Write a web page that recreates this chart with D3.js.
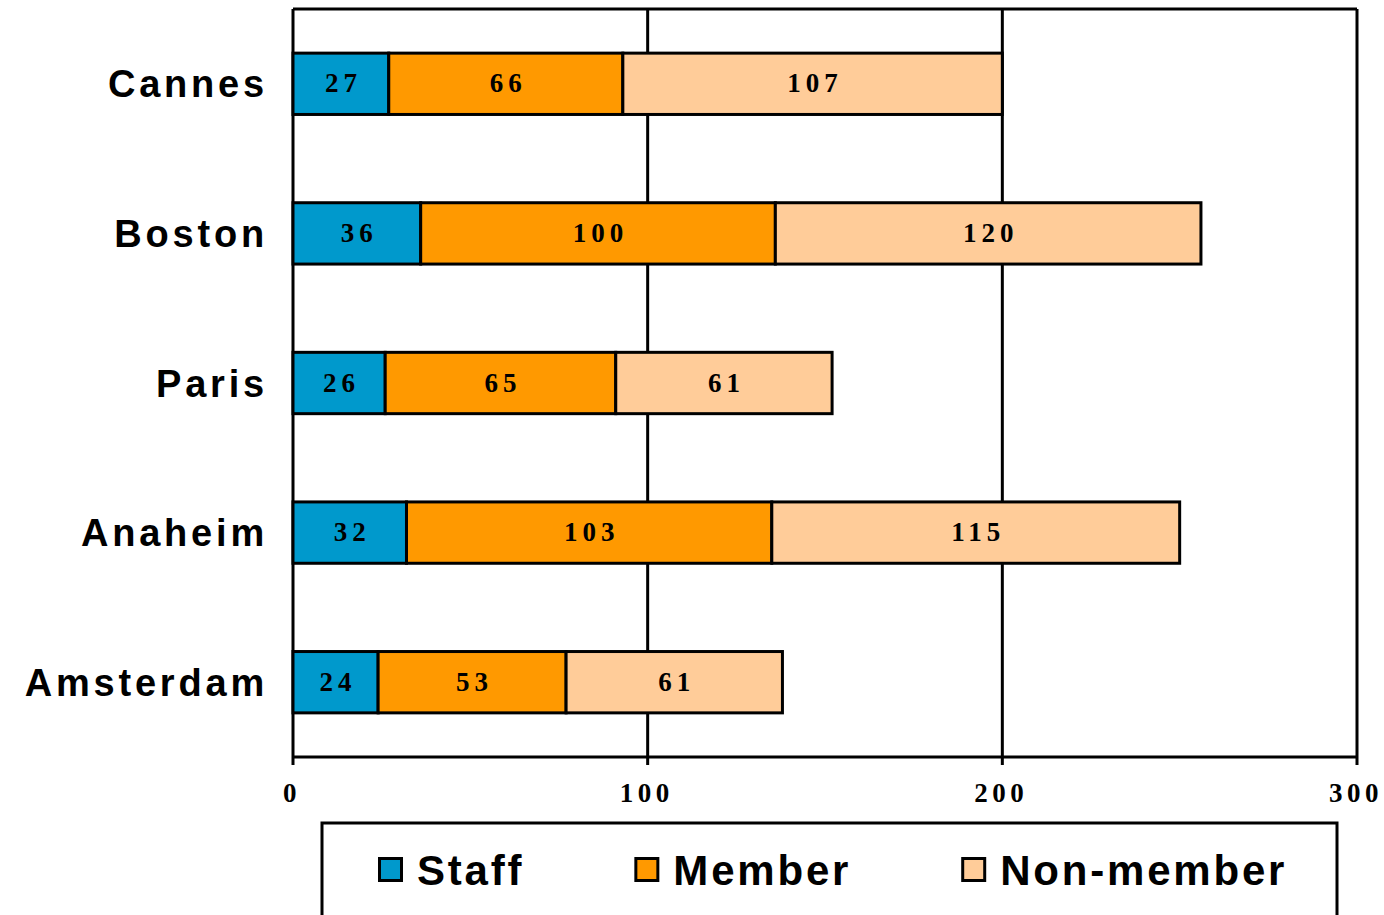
<!DOCTYPE html>
<html>
<head>
<meta charset="utf-8">
<script src="https://cdn.jsdelivr.net/npm/d3@7"></script>
<style>
  body { margin: 0; background: #fff; }
  svg { display: block; }
</style>
</head>
<body>
<svg id="chart" width="1384" height="915"></svg>
<script>
// data
let cities = ['Cannes', 'Boston', 'Paris', 'Anaheim', 'Amsterdam'];
let seriesNames = ['Staff', 'Member', 'Non-member'];
let staff = [27, 36, 26, 32, 24];
let member = [66, 100, 65, 103, 53];
let nonMember = [107, 120, 61, 115, 61];
let xTicks = [0, 100, 200, 300];

let colors = ['#0099cc', '#ff9900', '#ffcc99'];

let svg = d3.select('#chart');
let plotLeft = 293, plotTop = 9, plotRight = 1357, plotBottom = 757;

let x = d3.scaleLinear().domain([0, 300]).range([plotLeft, plotRight]);
let y = d3.scaleBand().domain(cities).range([plotTop, plotBottom]).paddingInner(0.59).paddingOuter(0.295);

// rows for the stack
let rows = cities.map((c, i) => ({ city: c, Staff: staff[i], Member: member[i], 'Non-member': nonMember[i] }));
let stacked = d3.stack().keys(seriesNames)(rows);

// frame + grid lines
let grid = svg.append('g').attr('stroke', '#000').attr('stroke-width', 3);
grid.append('line').attr('x1', x(0)).attr('x2', x(300)).attr('y1', plotTop).attr('y2', plotTop);
grid.append('line').attr('x1', x(0)).attr('x2', x(300)).attr('y1', plotBottom).attr('y2', plotBottom);
grid.selectAll('.v')
    .data(xTicks)
    .enter()
    .append('line')
    .attr('x1', d => x(d)).attr('x2', d => x(d))
    .attr('y1', plotTop).attr('y2', plotBottom + 8);

// bars
let layers = svg.selectAll('.layer')
    .data(stacked)
    .enter()
    .append('g')
    .attr('fill', (d, i) => colors[i]);

layers.selectAll('rect')
    .data(d => d)
    .enter()
    .append('rect')
    .attr('x', d => x(d[0]))
    .attr('y', d => y(d.data.city))
    .attr('width', d => x(d[1]) - x(d[0]))
    .attr('height', y.bandwidth())
    .attr('stroke', '#000')
    .attr('stroke-width', 3);

// value labels
layers.selectAll('text')
    .data(d => d)
    .enter()
    .append('text')
    .attr('x', d => (x(d[0]) + x(d[1])) / 2 + 2.5)
    .attr('y', d => y(d.data.city) + y.bandwidth() / 2)
    .attr('dy', '0.32em')
    .attr('text-anchor', 'middle')
    .attr('fill', '#000')
    .style('font-family', '"Liberation Serif", serif')
    .style('font-weight', 'bold')
    .style('font-size', '27px')
    .style('letter-spacing', '5px')
    .text(d => d[1] - d[0]);

// city labels
svg.selectAll('.city')
    .data(cities)
    .enter()
    .append('text')
    .attr('x', plotLeft - 25)
    .attr('y', d => y(d) + y.bandwidth() / 2)
    .attr('dy', '0.36em')
    .attr('text-anchor', 'end')
    .style('font-family', '"Liberation Sans", Arial, sans-serif')
    .style('font-weight', 'bold')
    .style('font-size', '38px')
    .style('letter-spacing', '3.8px')
    .text(d => d);

// x tick labels
svg.selectAll('.tick-label')
    .data(xTicks)
    .enter()
    .append('text')
    .attr('x', d => x(d) - 1)
    .attr('y', 802)
    .attr('text-anchor', 'middle')
    .style('font-family', '"Liberation Serif", serif')
    .style('font-weight', 'bold')
    .style('font-size', '27px')
    .style('letter-spacing', '4.5px')
    .text(d => d);

// legend
svg.append('rect')
    .attr('x', 322).attr('y', 823)
    .attr('width', 1015).attr('height', 130)
    .attr('fill', 'none')
    .attr('stroke', '#000')
    .attr('stroke-width', 3);

let lx = 378;
seriesNames.forEach((name, i) => {
  let g = svg.append('g').attr('transform', `translate(${lx},857)`);
  g.append('rect')
      .attr('x', 1.5).attr('y', 1.5)
      .attr('width', 22).attr('height', 22)
      .attr('fill', colors[i])
      .attr('stroke', '#000')
      .attr('stroke-width', 3);
  let t = g.append('text')
      .attr('x', 39)
      .attr('y', 28)
      .style('font-family', '"Liberation Sans", Arial, sans-serif')
      .style('font-weight', 'bold')
      .style('font-size', '42px')
      .style('letter-spacing', '2.8px')
      .text(name);
  let w = t.node().getComputedTextLength();
  lx += 39 + w + 110;
});
</script>
</body>
</html>
